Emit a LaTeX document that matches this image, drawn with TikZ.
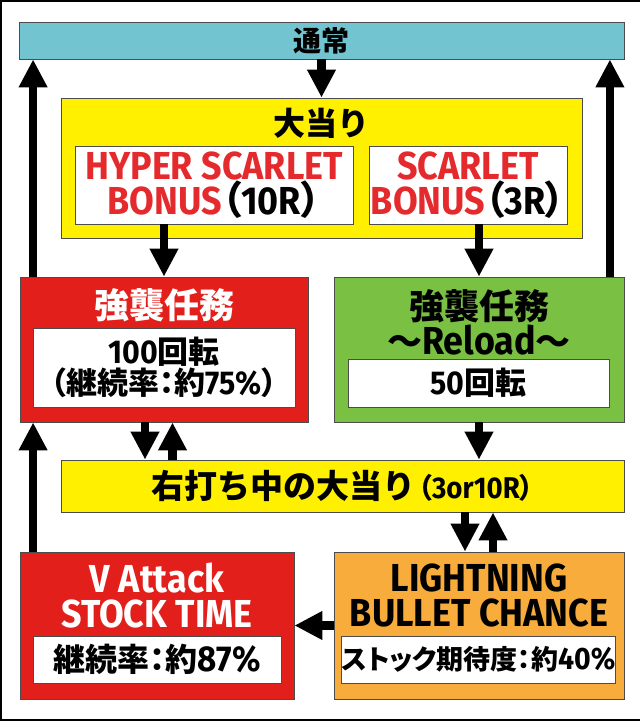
\documentclass[tikz,border=0pt]{standalone}
\usepackage{fontspec}
\usetikzlibrary{arrows.meta}

\newfontfamily\jpfam{Noto Sans CJK JP}[BoldFont={Noto Sans CJK JP Black}]
\newfontfamily\jppfam{Noto Sans CJK JP}[BoldFont={Noto Sans CJK JP Black}, RawFeature={+palt}]
\newfontfamily\latfam{Fira Sans}[FakeStretch=0.92]
\newcommand{\jpb}{\jpfam\bfseries}
\newcommand{\jpp}{\jppfam\bfseries}
\newcommand{\latb}{\latfam\bfseries}
\newcommand{\fsz}[2]{\fontsize{#1}{#2}\selectfont}

\definecolor{normalblue}{HTML}{72C4D0}
\definecolor{hityellow}{HTML}{FFF000}
\definecolor{missionred}{HTML}{E31F1B}
\definecolor{reloadgreen}{HTML}{7AC143}
\definecolor{bulletorange}{HTML}{F7AC3B}
\definecolor{scarletred}{HTML}{E52A2E}

\begin{document}
\begin{tikzpicture}[x=1pt, y=-1pt,
  box/.style={draw=black!70, line width=0.8pt, inner sep=0pt, align=center},
  arr/.style={line width=8.5pt, -{Triangle[length=28pt,width=27pt]}}]

\useasboundingbox (0,0) rectangle (640,721);

% --- Marco exterior ---
\draw[line width=2pt] (640,1) -- (1,1) -- (1,720) -- (640,720);

% --- Cajas ---
\node[box, fill=normalblue, minimum width=605pt, minimum height=37pt, font=\jpb\fsz{28}{28}] (normal) at (321.5,40.5) {通常};

\node[box, fill=hityellow, minimum width=521pt, minimum height=140pt] (jackpot) at (321.5,168) {};
\node[font=\jpb\fsz{32}{32}] (jackpottxt) at (321.5,123) {大当り};
\node[box, fill=white, minimum width=278pt, minimum height=78pt, font=\latb\fsz{39}{32}, text=scarletred] (hyper) at (214,185)
  {HYPER SCARLET\\BONUS\textcolor{black}{{\jpp（}10R{\jpp）}}};
\node[box, fill=white, minimum width=198pt, minimum height=78pt, font=\latb\fsz{39}{32}, text=scarletred] (scarlet) at (468,185)
  {SCARLET\\BONUS\textcolor{black}{{\jpp（}3R{\jpp）}}};

\node[box, fill=missionred, minimum width=288pt, minimum height=145pt] (mission) at (164,349.5) {};
\node[font=\jpb\fsz{35}{35}, text=white] (missiontxt) at (164,305) {強襲任務};
\node[box, fill=white, minimum width=262pt, minimum height=79pt, font=\jpp\fsz{31}{31}] (missionw) at (164,367.5)
  {{\latb\fsz{33}{31}100}回転\\（継続率：約{\latb\fsz{33}{31}75\%}）};

\node[box, fill=reloadgreen, minimum width=290pt, minimum height=145pt] (reload) at (479,349.5) {};
\node[font=\jpb\fsz{35}{35}, align=center] (reloadtxt) at (479,322.5) {強襲任務\\～{\latb\fsz{39}{35}Reload}～};
\node[box, fill=white, minimum width=261pt, minimum height=48pt, font=\jpp\fsz{31}{31}] (reloadw) at (478.5,383) {{\latb\fsz{33}{31}50}回転};

\node[box, fill=hityellow, minimum width=563pt, minimum height=52pt, font=\jpb\fsz{33}{33}] (rightjp) at (342.5,486)
  {右打ち中の大当り\hspace{3pt}{\jpp\fsz{28}{28}（\latb\fsz{30}{30}3or10R\jpp\fsz{28}{28}）}};

\node[box, fill=missionred, minimum width=274pt, minimum height=147pt] (vattack) at (157,625.5) {};
\node[font=\latb\fsz{39}{35}, text=white, align=center] (vattacktxt) at (157,595.5) {V Attack\\STOCK TIME};
\node[box, fill=white, minimum width=248pt, minimum height=47pt, font=\jpp\fsz{32}{32}] (vattackw) at (157,659.5) {継続率：約{\latb\fsz{36}{32}87\%}};

\node[box, fill=bulletorange, minimum width=290pt, minimum height=147pt] (lightning) at (479,625.5) {};
\node[font=\latb\fsz{39}{35}, align=center] (lightningtxt) at (479,595.5) {LIGHTNING\\BULLET CHANCE};
\node[box, fill=white, minimum width=261pt, minimum height=47pt, font=\jpp\fsz{27}{27}] (lightningw) at (478.5,659.5) {ストック期待度：約{\latb\fsz{31}{27}40\%}};

% --- Flechas ---
\draw[arr] (normal.south) -- (jackpot.north);
\draw[arr] (hyper.south -| mission.north) -- (mission.north);
\draw[arr] (scarlet.south -| reload.north) -- (reload.north);

\draw[arr] ([xshift=-19pt]mission.south) -- ([xshift=-19pt]mission.south |- rightjp.north);
\draw[arr] ([xshift=8.5pt]mission.south |- rightjp.north) -- ([xshift=8.5pt]mission.south);
\draw[arr] (reload.south) -- (reload.south |- rightjp.north);

\draw[arr] ([xshift=-14pt]lightning.north |- rightjp.south) -- ([xshift=-14pt]lightning.north);
\draw[arr] ([xshift=14pt]lightning.north) -- ([xshift=14pt]lightning.north |- rightjp.south);
\draw[arr] (lightning.west) -- (vattack.east);

% lados: vuelta al estado normal
\foreach \from/\to in {vattack/mission, mission/normal}
  \draw[arr] ([xshift=13.5pt]\from.north west) -- ([xshift=13.5pt]\from.north west |- \to.south);
\draw[arr] ([xshift=-14.5pt]reload.north east) -- ([xshift=-14.5pt]reload.north east |- normal.south);

\end{tikzpicture}
\end{document}
